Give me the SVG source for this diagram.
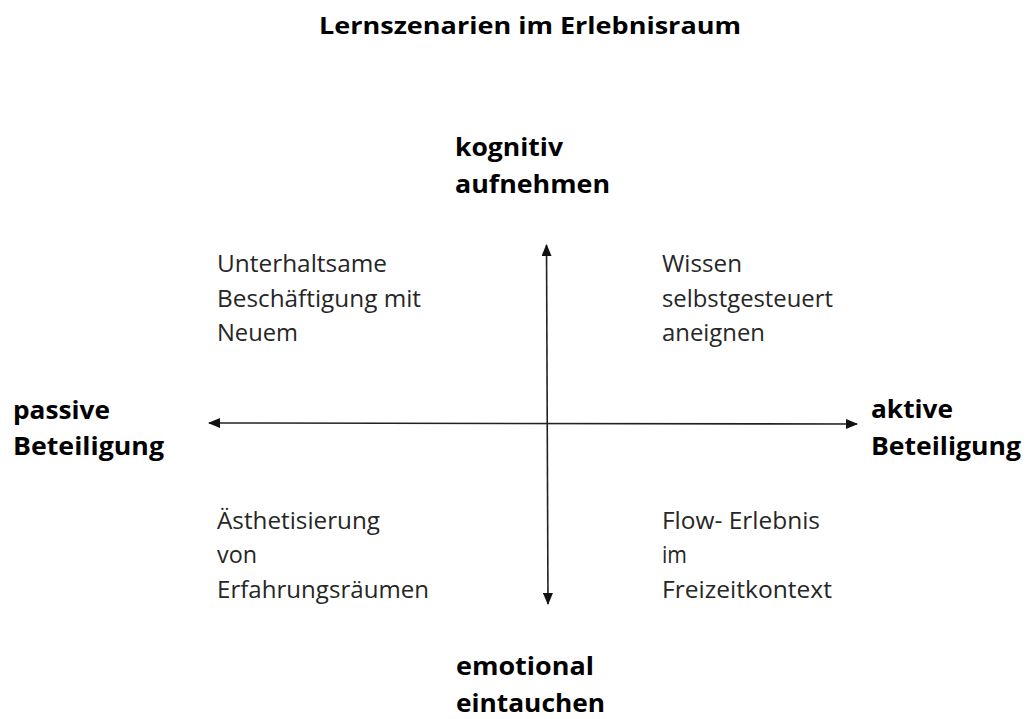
<svg xmlns="http://www.w3.org/2000/svg" width="1027" height="719" viewBox="0 0 1027 719">
<style>
.b{font-family:"Open Sans","Liberation Sans",sans-serif;font-weight:bold;font-size:25px;fill:#000}
.t{font-family:"Open Sans","Liberation Sans",sans-serif;font-weight:bold;font-size:24px;fill:#000}
.r{font-family:"Open Sans","Liberation Sans",sans-serif;font-size:23.5px;fill:#262626}
.ax{stroke:#222;stroke-width:1.6;fill:none}
</style>
<defs>
<marker id="ah" viewBox="0 0 12 10" refX="11" refY="5" markerWidth="12" markerHeight="10" markerUnits="userSpaceOnUse" orient="auto-start-reverse">
<path d="M0,0 L12,5 L0,10 Z" fill="#111"/>
</marker>
</defs>
<rect width="1027" height="719" fill="#fff"/>
<g id="title"><text class="t" x="319" y="34" textLength="422" lengthAdjust="spacingAndGlyphs">Lernszenarien im Erlebnisraum</text></g>
<g id="connectors">
<line class="ax" x1="546.5" y1="245" x2="548" y2="604" marker-start="url(#ah)" marker-end="url(#ah)"/>
<line class="ax" x1="209" y1="423" x2="857" y2="424" marker-start="url(#ah)" marker-end="url(#ah)"/>
</g>
<g id="top-label">
<text class="b" x="455" y="156" textLength="108" lengthAdjust="spacingAndGlyphs">kognitiv</text>
<text class="b" x="455" y="193" textLength="155" lengthAdjust="spacingAndGlyphs">aufnehmen</text>
</g>
<g id="left-label">
<text class="b" x="13" y="419" textLength="97" lengthAdjust="spacingAndGlyphs">passive</text>
<text class="b" x="13" y="455" textLength="151" lengthAdjust="spacingAndGlyphs">Beteiligung</text>
</g>
<g id="right-label">
<text class="b" x="871" y="418" textLength="82" lengthAdjust="spacingAndGlyphs">aktive</text>
<text class="b" x="871" y="455" textLength="150" lengthAdjust="spacingAndGlyphs">Beteiligung</text>
</g>
<g id="bottom-label">
<text class="b" x="456" y="675" textLength="138" lengthAdjust="spacingAndGlyphs">emotional</text>
<text class="b" x="456" y="712" textLength="149" lengthAdjust="spacingAndGlyphs">eintauchen</text>
</g>
<g id="q-top-left">
<text class="r" x="217" y="272" textLength="170" lengthAdjust="spacingAndGlyphs">Unterhaltsame</text>
<text class="r" x="217" y="306.5" textLength="204" lengthAdjust="spacingAndGlyphs">Beschäftigung mit</text>
<text class="r" x="217" y="341" textLength="81" lengthAdjust="spacingAndGlyphs">Neuem</text>
</g>
<g id="q-top-right">
<text class="r" x="662" y="272" textLength="80" lengthAdjust="spacingAndGlyphs">Wissen</text>
<text class="r" x="662" y="306.5" textLength="171" lengthAdjust="spacingAndGlyphs">selbstgesteuert</text>
<text class="r" x="662" y="341" textLength="103" lengthAdjust="spacingAndGlyphs">aneignen</text>
</g>
<g id="q-bottom-left">
<text class="r" x="217" y="528.5" textLength="163" lengthAdjust="spacingAndGlyphs">Ästhetisierung</text>
<text class="r" x="217" y="563" textLength="40" lengthAdjust="spacingAndGlyphs">von</text>
<text class="r" x="217" y="597.5" textLength="212" lengthAdjust="spacingAndGlyphs">Erfahrungsräumen</text>
</g>
<g id="q-bottom-right">
<text class="r" x="662" y="528.5" textLength="158" lengthAdjust="spacingAndGlyphs">Flow- Erlebnis</text>
<text class="r" x="662" y="563" textLength="25" lengthAdjust="spacingAndGlyphs">im</text>
<text class="r" x="662" y="597.5" textLength="170" lengthAdjust="spacingAndGlyphs">Freizeitkontext</text>
</g>
</svg>
